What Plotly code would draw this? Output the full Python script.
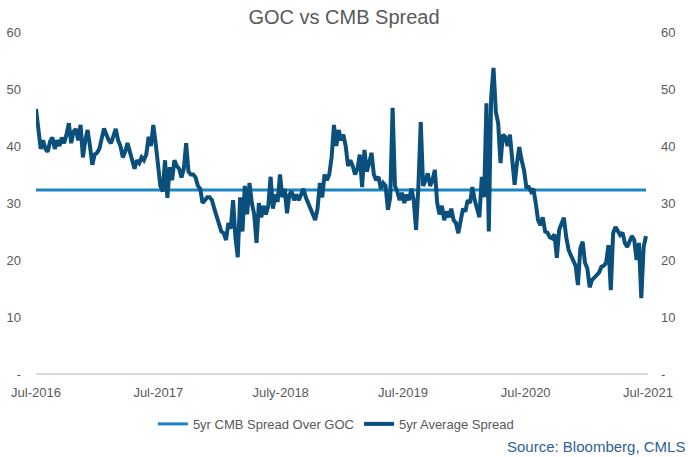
import pandas as pd
import plotly.graph_objects as go

# weekly spread values (bps), starting Jul-2016
spread = [
    46.5, 43.5, 39.5, 41.0, 39.5, 39.0, 40.8, 41.5, 39.5, 41.0,
    40.0, 41.5, 40.5, 42.0, 44.0, 40.5, 42.5, 43.0, 41.0, 43.7,
    38.0, 41.0, 42.8, 40.0, 36.7, 38.5, 38.8, 39.5, 41.0, 43.1,
    42.0, 41.0, 40.5, 42.0, 43.0, 41.0, 40.0, 38.0, 39.0, 40.5,
    39.0, 38.0, 36.0, 37.5, 37.0, 38.0, 37.5, 38.5, 41.6, 40.0,
    43.7, 40.5, 36.5, 33.0, 32.0, 37.5, 30.9, 36.3, 34.0, 37.5,
    36.5, 36.0, 34.5, 36.0, 40.5, 35.5, 35.0, 35.0, 34.5, 33.0,
    32.5, 30.0, 30.5, 31.0, 31.0, 30.5, 29.0, 27.5, 26.5, 25.0,
    24.7, 23.5, 26.5, 25.5, 30.5, 24.0, 20.5, 31.0, 25.0, 33.0,
    28.0, 33.5, 30.0, 28.0, 23.0, 30.0, 27.5, 29.5, 28.0, 29.5,
    34.6, 29.0, 31.5, 30.2, 35.0, 31.0, 32.5, 28.2, 31.5, 32.0,
    30.5, 31.5, 30.5, 31.5, 32.5, 31.0, 30.0, 29.0, 28.0, 27.0,
    29.0, 33.5, 31.0, 35.0, 34.0, 35.0, 38.0, 43.7, 40.0, 42.8,
    41.0, 42.0, 40.0, 36.5, 37.5, 36.5, 35.0, 36.0, 38.5, 32.8,
    39.3, 35.5, 37.0, 38.8, 35.0, 34.0, 34.6, 32.5, 33.5, 33.0,
    28.8, 31.0, 46.7, 33.0, 32.0, 30.5, 31.8, 30.0, 31.5, 30.5,
    32.5, 30.5, 25.3, 33.0, 44.2, 33.0, 34.0, 35.2, 33.0, 34.0,
    35.8, 30.0, 28.0, 29.5, 27.0, 28.5, 27.5, 29.0, 27.0, 26.5,
    24.7, 27.0, 29.0, 28.5, 30.5, 30.0, 32.8, 30.5, 29.0, 27.5,
    34.6, 31.0, 47.5, 25.0, 48.5, 53.7, 46.0, 44.0, 37.0, 42.0,
    41.6, 40.0, 42.0, 38.0, 33.2, 37.0, 39.8, 37.5, 35.8, 32.8,
    32.8, 32.0, 32.5, 30.0, 27.0, 26.1, 27.5, 25.0, 24.8, 24.0,
    23.8, 24.5, 20.4, 25.3, 26.5, 27.4, 24.0, 21.8, 20.8, 20.0,
    19.0, 15.6, 22.0, 23.2, 19.5, 18.5, 15.2, 16.5, 17.0, 17.5,
    17.8, 18.8, 19.0, 19.5, 22.6, 14.7, 24.7, 25.8, 25.0, 24.4,
    24.8, 23.0, 22.3, 23.5, 24.2, 23.5, 20.0, 23.0, 13.3, 22.3, 24.2,
]
dates = pd.date_range("2016-07-01", periods=len(spread), freq="7D")

avg_spread = 32.3

tick_dates = ["2016-07-01", "2017-07-01", "2018-07-01", "2019-07-01", "2020-07-01", "2021-07-01"]
tick_text = ["Jul-2016", "Jul-2017", "July-2018", "Jul-2019", "Jul-2020", "Jul-2021"]
y_vals = [0, 10, 20, 30, 40, 50, 60]
y_text = ["-", "10", "20", "30", "40", "50", "60"]

grey = "#595959"
font = "Liberation Sans, Arial, sans-serif"

fig = go.Figure()

# flat average line
fig.add_trace(go.Scatter(
    x=dates, y=[avg_spread] * len(dates),
    mode="lines", name="5yr CMB Spread Over GOC",
    line=dict(color="#1b86c2", width=3),
))

# spread series, on the overlay axis so it sits on top
fig.add_trace(go.Scatter(
    x=dates, y=spread,
    mode="lines", name="5yr Average Spread",
    line=dict(color="#0b4f7d", width=4),
    yaxis="y2",
))

fig.update_layout(
    width=688, height=457,
    margin=dict(l=36, r=40, t=32, b=83),
    paper_bgcolor="white", plot_bgcolor="white",
    font=dict(family=font, color=grey, size=13),
    title=dict(text="GOC vs CMB Spread", x=0.5, xanchor="center",
               y=0.963, yanchor="middle", font=dict(size=20, color=grey)),
    xaxis=dict(
        type="date", range=["2016-07-01", "2021-07-01"],
        tickvals=tick_dates, ticktext=tick_text,
        showgrid=False, showline=False, zeroline=False,
        ticklabelstandoff=9, automargin=False,
    ),
    yaxis=dict(
        range=[0, 60], tickvals=y_vals, ticktext=y_text,
        showgrid=False, zeroline=True, zerolinecolor="#d9d9d9", zerolinewidth=2,
        ticklabelstandoff=14, automargin=False,
    ),
    yaxis2=dict(
        range=[0, 60], tickvals=y_vals, ticktext=y_text,
        overlaying="y", side="right",
        showgrid=False, zeroline=False,
        ticklabelstandoff=12, automargin=False,
    ),
    legend=dict(orientation="h", x=0.49, xanchor="center",
                y=-0.146, yanchor="middle", font=dict(size=13, color=grey)),
    annotations=[dict(
        text="Source: Bloomberg, CMLS", xref="paper", yref="paper",
        x=1.064, y=-0.213, xanchor="right", yanchor="middle",
        showarrow=False, font=dict(size=15, color="#2f5f96"),
    )],
)

# drop the page's default body margin so the figure sits at 0,0
fig.write_html("out.html", config={"displayModeBar": False},
               post_script="document.body.style.margin='0';")
